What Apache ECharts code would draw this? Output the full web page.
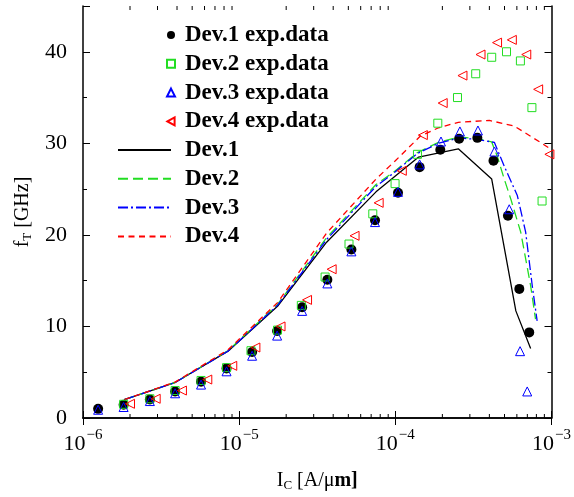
<!DOCTYPE html>
<html>
<head>
<meta charset="utf-8">
<script src="https://cdn.jsdelivr.net/npm/echarts@6/dist/echarts.min.js"></script>
<style>
  html, body { margin: 0; padding: 0; background: #fff; }
  #main { width: 574px; height: 497px; }
</style>
</head>
<body>
<div id="main"></div>
<script>
  // measured points (I_C in A/um, fT in GHz)
  var dev1ExpX = [1.25e-6, 1.82e-6, 2.68e-6, 3.89e-6, 5.7e-6, 8.3e-6, 1.21e-5, 1.75e-5, 2.53e-5, 3.67e-5, 5.23e-5, 7.41e-5, 1.04e-4, 1.43e-4, 1.94e-4, 2.56e-4, 3.35e-4, 4.25e-4, 5.26e-4, 6.22e-4, 7.2e-4];
  var dev1ExpY = [1.0, 1.44, 2.03, 2.89, 3.97, 5.42, 7.2, 9.5, 12.1, 15.1, 18.4, 21.6, 24.6, 27.4, 29.3, 30.5, 30.6, 28.1, 22.1, 14.1, 9.35];
  var dev2ExpX = [1.82e-6, 2.68e-6, 3.89e-6, 5.7e-6, 8.3e-6, 1.19e-5, 1.76e-5, 2.5e-5, 3.55e-5, 5.05e-5, 7.17e-5, 9.96e-5, 1.385e-4, 1.87e-4, 2.5e-4, 3.27e-4, 4.14e-4, 5.15e-4, 6.32e-4, 7.49e-4, 8.7e-4];
  var dev2ExpY = [1.5, 2.1, 3.0, 4.1, 5.5, 7.35, 9.6, 12.3, 15.4, 19.0, 22.3, 25.6, 28.8, 32.2, 35.0, 37.6, 39.4, 40.0, 39.0, 33.9, 23.7];
  var dev3ExpX = [1.25e-6, 1.82e-6, 2.68e-6, 3.89e-6, 5.7e-6, 8.3e-6, 1.21e-5, 1.75e-5, 2.53e-5, 3.67e-5, 5.23e-5, 7.41e-5, 1.04e-4, 1.43e-4, 1.96e-4, 2.59e-4, 3.38e-4, 4.31e-4, 5.36e-4, 6.29e-4, 6.99e-4];
  var dev3ExpY = [0.9, 1.2, 1.85, 2.7, 3.65, 5.1, 6.8, 9.0, 11.7, 14.7, 18.2, 21.4, 24.7, 27.7, 30.2, 31.3, 31.4, 29.1, 22.8, 7.3, 2.9];
  var dev4ExpX = [2.0e-6, 2.92e-6, 4.3e-6, 6.25e-6, 9.03e-6, 1.27e-5, 1.84e-5, 2.72e-5, 3.91e-5, 5.48e-5, 7.82e-5, 1.1e-4, 1.5e-4, 2.01e-4, 2.69e-4, 3.51e-4, 4.48e-4, 5.57e-4, 6.89e-4, 8.21e-4, 9.69e-4];
  var dev4ExpY = [1.55, 2.1, 3.0, 4.2, 5.7, 7.7, 10.0, 12.9, 16.25, 19.9, 23.5, 27.0, 30.9, 34.4, 37.4, 39.7, 41.0, 41.3, 39.7, 35.9, 28.8];

  // simulated curves
  var dev1SimX = [1.84e-6, 3.91e-6, 8.48e-6, 1.76e-5, 3.63e-5, 7.52e-5, 1.41e-4, 2.53e-4, 4.14e-4, 5.91e-4, 7.35e-4];
  var dev1SimY = [2.0, 3.9, 7.3, 12.2, 19.2, 24.7, 28.5, 29.4, 26.1, 11.7, 7.6];
  var dev2SimX = [1.84e-6, 3.91e-6, 8.48e-6, 1.76e-5, 3.63e-5, 7.52e-5, 1.0e-4, 1.385e-4, 1.89e-4, 2.58e-4, 3.4e-4, 4.14e-4, 4.51e-4, 4.98e-4, 5.49e-4, 6.35e-4, 7.34e-4, 7.9e-4];
  var dev2SimY = [2.0, 3.9, 7.35, 12.4, 19.7, 25.5, 27.0, 29.0, 30.1, 30.7, 30.5, 30.15, 28.5, 26.1, 23.9, 20.3, 14.5, 10.8];
  var dev3SimX = [1.84e-6, 3.91e-6, 8.48e-6, 1.76e-5, 3.63e-5, 7.52e-5, 1.0e-4, 1.385e-4, 1.89e-4, 2.58e-4, 3.4e-4, 4.31e-4, 4.98e-4, 6.04e-4, 6.83e-4, 7.52e-4, 8.09e-4];
  var dev3SimY = [2.0, 3.9, 7.3, 12.3, 19.5, 25.3, 26.9, 28.9, 30.0, 30.6, 30.4, 30.1, 27.5, 24.3, 20.3, 14.5, 10.6];
  var dev4SimX = [1.84e-6, 3.91e-6, 8.48e-6, 1.76e-5, 3.63e-5, 7.52e-5, 1.0e-4, 1.447e-4, 1.89e-4, 2.53e-4, 4.0e-4, 5.76e-4, 8.5e-4, 9.83e-4];
  var dev4SimY = [2.0, 3.95, 7.45, 12.6, 20.2, 26.1, 28.1, 30.8, 31.7, 32.3, 32.5, 31.9, 30.1, 29.4];

  var expNames = ['Dev.1 exp.data', 'Dev.2 exp.data', 'Dev.3 exp.data', 'Dev.4 exp.data'];
  var simNames = ['Dev.1', 'Dev.2', 'Dev.3', 'Dev.4'];
  var minorTicksX = [2e-6, 3e-6, 4e-6, 5e-6, 6e-6, 7e-6, 8e-6, 9e-6,
                     2e-5, 3e-5, 4e-5, 5e-5, 6e-5, 7e-5, 8e-5, 9e-5,
                     2e-4, 3e-4, 4e-4, 5e-4, 6e-4, 7e-4, 8e-4, 9e-4];

  function pairs(xs, ys) {
    return xs.map(function(x, i) { return [x, ys[i]]; });
  }

  var serif = 'Liberation Serif';
  var green = '#22dd22';
  var leftTriangle = 'path://M0,5L9,0L9,10Z';

  var myChart = echarts.init(document.getElementById('main'));

  function yAxisOpt(pos, showLabel, interval, tickLen, showLine) {
    return {
      type: 'value', position: pos, min: 0, max: 45, interval: interval,
      axisLine: { show: showLine, lineStyle: { color: '#000', width: 1.5 } },
      axisTick: { show: true, inside: true, length: tickLen, lineStyle: { color: '#000', width: 1 } },
      splitLine: { show: false },
      axisLabel: {
        show: showLabel, margin: 16, color: '#000', fontFamily: serif, fontSize: 22,
        formatter: function(v) { return v % 10 === 0 ? String(v) : ''; }
      }
    };
  }

  var xLabel = {
    show: true, margin: 10, color: '#000', fontFamily: serif,
    formatter: function(v) {
      var e = Math.round(Math.log10(v));
      return '{b|10}{s|\u2212' + Math.abs(e) + '}';
    },
    rich: {
      b: { fontFamily: serif, fontSize: 22, color: '#000' },
      s: { fontFamily: serif, fontSize: 15, color: '#000', padding: [0, 0, 18, 1] }
    }
  };

  var yMain = yAxisOpt('left', true, 10, 7, true);
  yMain.name = '{a|f}{sub|T}{a| [GHz]}';
  yMain.nameLocation = 'middle';
  yMain.nameGap = 47;
  yMain.nameTextStyle = {
    color: '#000',
    rich: {
      a: { fontFamily: serif, fontSize: 20, color: '#000' },
      sub: { fontFamily: serif, fontSize: 13, color: '#000', padding: [10, 0, 0, 0] }
    }
  };

  var legendText = { fontFamily: serif, fontWeight: 'bold', fontSize: 23, lineHeight: 24, color: '#000' };

  var option = {
    animation: false,
    backgroundColor: '#fff',
    grid: { left: 83, right: 16, top: 6, bottom: 76 },
    legend: [{
      data: expNames.map(function(n, i) {
        return i === 3 ? { name: n, icon: leftTriangle } : { name: n };
      }),
      orient: 'vertical',
      left: 166, top: 23, padding: 0,
      itemWidth: 8, itemHeight: 8,
      itemGap: 4.8,
      selectedMode: false,
      textStyle: Object.assign({ padding: [0, 0, 0, 5] }, legendText)
    }, {
      data: simNames,
      orient: 'vertical',
      left: 117, top: 138, padding: 0,
      itemWidth: 53, itemHeight: 2,
      itemGap: 4.8,
      selectedMode: false,
      itemStyle: { color: 'rgba(0,0,0,0)', borderColor: 'rgba(0,0,0,0)', borderWidth: 0 },
      textStyle: Object.assign({ padding: [0, 0, 0, 9] }, legendText)
    }],
    xAxis: [{
      type: 'log', logBase: 10, min: 1e-6, max: 1e-3, position: 'bottom',
      axisLine: { show: true, lineStyle: { color: '#000', width: 1.5 } },
      axisTick: { show: true, inside: true, length: 7, lineStyle: { color: '#000', width: 1 } },
      splitLine: { show: false },
      axisLabel: xLabel,
      name: '{a|I}{sub|C}{a| [A/\u03bc}{bd|m]}',
      nameLocation: 'middle',
      nameGap: 51,
      nameTextStyle: {
        color: '#000',
        rich: {
          a: { fontFamily: serif, fontSize: 20, color: '#000' },
          bd: { fontFamily: serif, fontSize: 20, fontWeight: 'bold', color: '#000' },
          sub: { fontFamily: serif, fontSize: 13, color: '#000', padding: [10, 0, 0, 0] }
        }
      }
    }, {
      type: 'log', logBase: 10, min: 1e-6, max: 1e-3, position: 'top',
      axisLine: { show: true, lineStyle: { color: '#000', width: 1.5 } },
      axisTick: { show: true, inside: true, length: 7, lineStyle: { color: '#000', width: 1 } },
      splitLine: { show: false },
      axisLabel: { show: false }
    }],
    yAxis: [
      yMain,
      yAxisOpt('right', false, 10, 7, true),
      yAxisOpt('left', false, 5, 4, false),
      yAxisOpt('right', false, 5, 4, false)
    ],
    series: [
      {
        name: 'Dev.1', type: 'line', symbol: 'none', z: 2,
        data: pairs(dev1SimX, dev1SimY),
        itemStyle: { color: '#000' },
        lineStyle: { color: '#000', width: 1.3, type: 'solid' }
      },
      {
        name: 'Dev.2', type: 'line', symbol: 'none', z: 2,
        data: pairs(dev2SimX, dev2SimY),
        itemStyle: { color: green },
        lineStyle: { color: green, width: 1.3, type: [10, 5] }
      },
      {
        name: 'Dev.3', type: 'line', symbol: 'none', z: 2,
        data: pairs(dev3SimX, dev3SimY),
        itemStyle: { color: '#0000ff' },
        lineStyle: { color: '#0000ff', width: 1.3, type: [10, 3, 2, 3] }
      },
      {
        name: 'Dev.4', type: 'line', symbol: 'none', z: 2,
        data: pairs(dev4SimX, dev4SimY),
        itemStyle: { color: '#ff0000' },
        lineStyle: { color: '#ff0000', width: 1.3, type: [6, 4.5] }
      },
      {
        name: 'Dev.1 exp.data', type: 'scatter', symbol: 'circle', symbolSize: 10, z: 3,
        data: pairs(dev1ExpX, dev1ExpY),
        itemStyle: { color: '#000', opacity: 1 }
      },
      {
        name: 'Dev.2 exp.data', type: 'scatter', symbol: 'rect', symbolSize: 8, z: 3,
        data: pairs(dev2ExpX, dev2ExpY),
        itemStyle: { color: 'rgba(0,0,0,0)', borderColor: green, borderWidth: 1, opacity: 1 }
      },
      {
        name: 'Dev.3 exp.data', type: 'scatter', symbol: 'triangle', symbolSize: 9, z: 3,
        data: pairs(dev3ExpX, dev3ExpY),
        itemStyle: { color: 'rgba(0,0,0,0)', borderColor: '#0000ff', borderWidth: 1, opacity: 1 }
      },
      {
        name: 'Dev.4 exp.data', type: 'scatter', symbol: 'triangle', symbolRotate: 90, symbolSize: 9, z: 3,
        data: pairs(dev4ExpX, dev4ExpY),
        itemStyle: { color: 'rgba(0,0,0,0)', borderColor: '#ff0000', borderWidth: 1, opacity: 1 }
      },
      {
        // minor ticks of the log axis, top and bottom
        type: 'custom', silent: true, z: 1,
        data: minorTicksX.map(function(v) { return [v, 0]; }),
        renderItem: function(params, api) {
          var x = api.coord([api.value(0), 1])[0];
          var cs = params.coordSys;
          var bottom = cs.y + cs.height;
          return {
            type: 'group',
            children: [
              { type: 'line', shape: { x1: x, y1: bottom, x2: x, y2: bottom - 4 }, style: { stroke: '#000', lineWidth: 1 } },
              { type: 'line', shape: { x1: x, y1: cs.y, x2: x, y2: cs.y + 4 }, style: { stroke: '#000', lineWidth: 1 } }
            ]
          };
        }
      }
    ]
  };
  myChart.setOption(option);
</script>
</body>
</html>
